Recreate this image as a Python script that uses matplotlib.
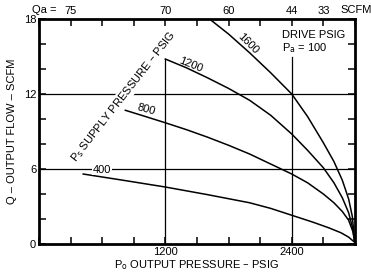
import numpy as np
import matplotlib
matplotlib.use("Agg")
import matplotlib.pyplot as plt

# Output flow (scfm) vs output pressure (psig), one curve per supply pressure
p1600 = [1620, 1800, 2000, 2200, 2400, 2550, 2700, 2800, 2880, 2940, 2975, 2995]
q1600 = [18.0, 16.8, 15.3, 13.7, 12.0, 10.2, 8.1, 6.6, 5.1, 3.6, 2.2, 0.3]

p1200 = [1200, 1400, 1600, 1800, 2000, 2200, 2400, 2550, 2700, 2800, 2880, 2940, 2980, 2995]
q1200 = [14.8, 14.1, 13.3, 12.45, 11.5, 10.3, 8.8, 7.5, 6.1, 4.9, 3.7, 2.5, 1.2, 0.3]

p800 = [820, 1000, 1200, 1400, 1600, 1800, 2000, 2200, 2400, 2550, 2700, 2800, 2880, 2940, 2980, 2995]
q800 = [10.7, 10.23, 9.7, 9.15, 8.55, 7.9, 7.2, 6.4, 5.6, 4.9, 4.0, 3.3, 2.6, 1.9, 1.0, 0.3]

p400 = [420, 800, 1200, 1600, 2000, 2200, 2400, 2600, 2750, 2867, 2940, 2995]
q400 = [5.6, 5.1, 4.56, 3.95, 3.3, 2.85, 2.3, 1.75, 1.3, 0.9, 0.55, 0.15]

x_ticks = list(range(0, 3001, 300))
x_labels = {1200: "1200", 2400: "2400"}
y_ticks = list(range(0, 19, 2))
y_labels = {0: "0", 6: "6", 12: "12", 18: "18"}
top_labels = {300: "75", 1200: "70", 1800: "60", 2400: "44", 2700: "33"}

plt.rcParams['font.family'] = ['Liberation Sans', 'DejaVu Sans']
plt.rcParams['font.size'] = 8

fig = plt.figure(figsize=(3.71, 2.75), dpi=100)
ax = fig.add_axes([0.105, 0.1127, 0.8518, 0.818])

ax.set_xlim(0, 3000)
ax.set_ylim(0, 18)

# grid lines
ax.axhline(6, color='black', lw=0.9, zorder=1)
ax.axhline(12, color='black', lw=0.9, zorder=1)
ax.plot([1200, 1200], [0, 14.8], color='black', lw=0.9, zorder=1)
ax.plot([2400, 2400], [0, 15.0], color='black', lw=0.9, zorder=1)

for p, q in [(p1600, q1600), (p1200, q1200), (p800, q800), (p400, q400)]:
    ax.plot(p, q, color='black', lw=1.1, zorder=2)

lab = dict(ha='center', va='center', fontsize=8, zorder=3)
ax.text(1980, 16.0, "1600", rotation=-45, **lab)
ax.text(1440, 14.3, "1200", rotation=-22, **lab)
ax.text(1020, 10.75, "800", rotation=-15, **lab)
ax.text(600, 5.95, "400",
        bbox=dict(facecolor='white', edgecolor='none', pad=0.5), **lab)
ax.text(800, 11.8, "P$_{\\rm s}$ SUPPLY PRESSURE \u2013 PSIG", rotation=52,
        bbox=dict(facecolor='white', edgecolor='none', pad=0.3), **lab)

ax.text(2310, 16.7, "DRIVE PSIG", ha='left', va='center', fontsize=8)
ax.text(2310, 15.65, "P$_{\\rm a}$ = 100", ha='left', va='center', fontsize=8)

ax.set_xticks(x_ticks)
ax.set_xticklabels([x_labels.get(t, "") for t in x_ticks])
ax.set_yticks(y_ticks)
ax.set_yticklabels([y_labels.get(t, "") for t in y_ticks])
ax.tick_params(direction='in', length=5, width=1.1, right=True, pad=2)

for s in ax.spines.values():
    s.set_linewidth(2)

ax.set_xlabel("P$_{\\rm o}$ OUTPUT PRESSURE \u2013 PSIG", labelpad=1)
ax.set_ylabel("Q \u2013 OUTPUT FLOW \u2013 SCFM", labelpad=5)

# top scale: actual flow
ax2 = ax.twiny()
ax2.set_xlim(ax.get_xlim())
ax2.set_xticks(x_ticks)
ax2.set_xticklabels([top_labels.get(t, "") for t in x_ticks])
ax2.tick_params(direction='in', length=5, width=1.1, pad=2)
for s in ax2.spines.values():
    s.set_visible(False)

fig.text(32 / 371, 1 - 10 / 275, "Qa =", ha='left', va='center', fontsize=8)
fig.text(340 / 371, 1 - 10 / 275, "SCFM", ha='left', va='center', fontsize=8)

fig.savefig("out.png", dpi=100)
